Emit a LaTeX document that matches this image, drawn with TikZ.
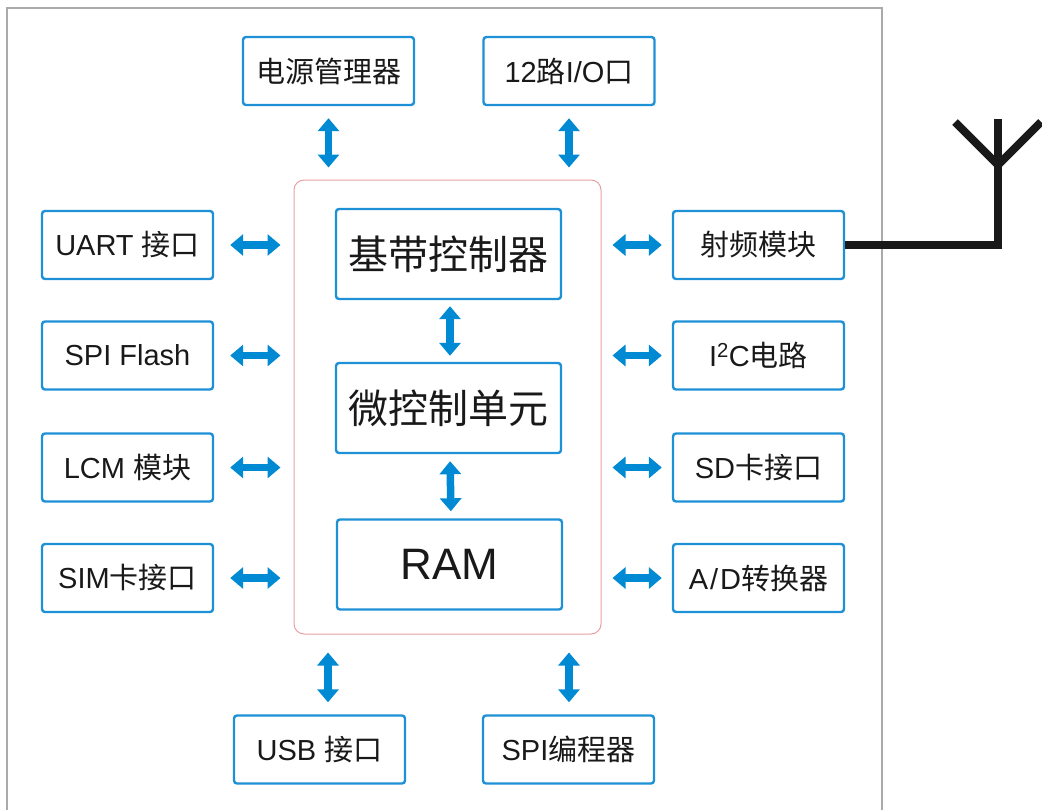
\documentclass[tikz,border=0pt]{standalone}
\usepackage{fontspec}
\setmainfont{Liberation Sans}
\newfontfamily\cjk{Noto Sans CJK SC}
\newcommand\zh[1]{{\cjk #1}}
\usetikzlibrary{arrows.meta}
\definecolor{boxblue}{RGB}{30,144,214}
\definecolor{arrblue}{RGB}{0,138,212}
\definecolor{corered}{RGB}{232,160,160}
\definecolor{txt}{RGB}{25,25,25}
\definecolor{framegray}{RGB}{170,170,170}
\begin{document}
\begin{tikzpicture}[x=1pt,y=-1pt,
  sbox/.style={draw=boxblue, line width=2.4pt, rounded corners=3pt,
    minimum width=171pt, minimum height=68pt, inner sep=0pt, text=txt,
    font=\fontsize{29}{33}\selectfont},
  bbox/.style={sbox, minimum width=225pt, minimum height=90pt,
    font=\fontsize{40}{46}\selectfont},
  dar/.style={draw=arrblue, line width=7.5pt,
    {Triangle[width=21pt,length=13pt]}-{Triangle[width=21pt,length=13pt]}},
  ant/.style={draw=txt, line width=8pt, line join=miter}]
\useasboundingbox (0,0) rectangle (1042,809);
% outer frame
\draw[framegray, line width=1.2pt] (7,815) -- (7,8) -- (882,8) -- (882,815);
% core
\node[draw=corered, line width=1pt, rounded corners=10pt, minimum width=307pt,
      minimum height=454pt, inner sep=0pt] (core) at (447.5,407) {};
\node[bbox] (bb) at (448.5,254) {\zh{基带控制器}};
\node[bbox] (mcu) at (448.5,408) {\zh{微控制单元}};
\node[bbox, font=\fontsize{44}{50}\selectfont] (ram) at (449.5,564.5) {RAM};
% top
\node[sbox] (pwr) at (328.5,71) {\zh{电源管理器}};
\node[sbox] (io) at (569,71) {12\zh{路}I/O\zh{口}};
% left
\node[sbox] (uart) at (127.5,245) {UART \zh{接口}};
\node[sbox] (spif) at (127.5,355.5) {SPI Flash};
\node[sbox] (lcm) at (127.5,467.5) {LCM \zh{模块}};
\node[sbox] (sim) at (127.5,578) {SIM\zh{卡接口}};
% right
\node[sbox] (rf) at (758.5,245) {\zh{射频模块}};
\node[sbox] (i2c) at (758.5,355.5) {I\textsuperscript{2}C\zh{电路}};
\node[sbox] (sd) at (758.5,467.5) {SD\zh{卡接口}};
\node[sbox] (ad) at (758.5,578) {A\hspace{2pt}/\hspace{2pt}D\zh{转换器}};
% bottom
\node[sbox] (usb) at (319.5,749.5) {USB \zh{接口}};
\node[sbox] (spip) at (568.5,749.5) {SPI\zh{编程器}};
% arrows top
\draw[dar, shorten <=12pt, shorten >=12pt] (pwr.south) -- (pwr.south |- core.north);
\draw[dar, shorten <=12pt, shorten >=12pt] (io.south) -- (io.south |- core.north);
% inner arrows
\draw[dar, shorten <=6pt, shorten >=6pt] ([xshift=1.5pt]bb.south) -- ([xshift=1.5pt]mcu.north);
\draw[dar, shorten <=7pt, shorten >=7pt] ([xshift=1.5pt]mcu.south) -- ([xshift=1.5pt]ram.north);
% left arrows
\foreach \n in {uart,spif,lcm,sim}
  \draw[dar, shorten <=16pt, shorten >=13pt] (\n.east) -- (\n.east -| core.west);
% right arrows
\foreach \n in {rf,i2c,sd,ad}
  \draw[dar, shorten <=11pt, shorten >=10pt] (\n.west -| core.east) -- (\n.west);
% bottom arrows
\draw[dar, shorten <=12pt, shorten >=18pt] ([xshift=8.5pt]usb.north) -- ([xshift=8.5pt]usb.north |- core.south);
\draw[dar, shorten <=12pt, shorten >=18pt] ([xshift=0.5pt]spip.north) -- ([xshift=0.5pt]spip.north |- core.south);
% antenna
\coordinate (corner) at (998,245);
\coordinate (top) at (998,119);
\coordinate (fork) at (998,165);
\coordinate (armL) at (955,122);
\coordinate (armR) at (1041,122);
\draw[ant] (rf.east) -- (corner) -- (top);
\draw[ant] (armL) -- (fork) -- (armR);
\end{tikzpicture}
\end{document}
